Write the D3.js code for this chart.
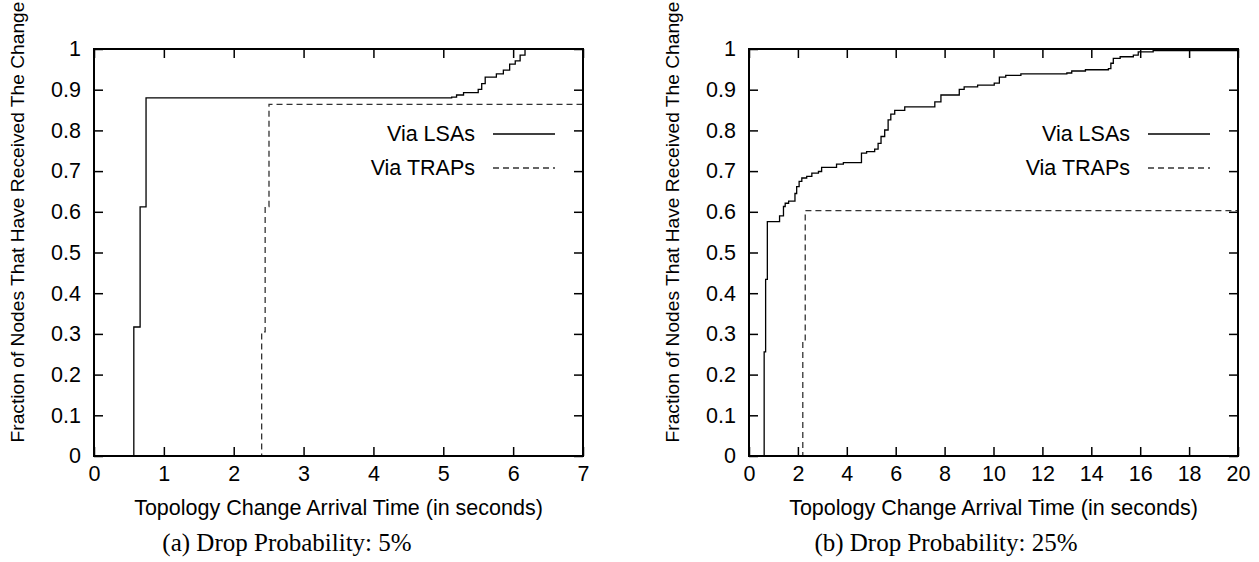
<!DOCTYPE html>
<html>
<head>
<meta charset="utf-8">
<script src="https://cdn.jsdelivr.net/npm/d3@7"></script>
<style>
  html, body { margin: 0; padding: 0; background: #fff; }
  svg { display: block; }
</style>
</head>
<body>
<svg id="chart" width="1259" height="562"></svg>
<script>
// ---------- DATA ----------
const yTicks = [0, 0.1, 0.2, 0.3, 0.4, 0.5, 0.6, 0.7, 0.8, 0.9, 1];
const yTickLabels = ["0", "0.1", "0.2", "0.3", "0.4", "0.5", "0.6", "0.7", "0.8", "0.9", "1"];
const xTicksA = [0, 1, 2, 3, 4, 5, 6, 7];
const xTicksB = [0, 2, 4, 6, 8, 10, 12, 14, 16, 18, 20];
const seriesNames = ["Via LSAs", "Via TRAPs"];
const yTitle = "Fraction of Nodes That Have Received The Change";
const xTitle = "Topology Change Arrival Time (in seconds)";
const captionA = "(a) Drop Probability: 5%";
const captionB = "(b) Drop Probability: 25%";

// panel (a): [time, fraction] step points
const lsaA = [[0.5,0],[0.57,0.317],[0.66,0.612],[0.745,0.880],[5.12,0.882],[5.19,0.887],
  [5.29,0.893],[5.50,0.901],[5.55,0.915],[5.60,0.931],[5.76,0.939],[5.86,0.948],
  [5.95,0.963],[6.03,0.971],[6.10,0.985],[6.17,1.0]];
const trapA = [[2.35,0],[2.40,0.305],[2.45,0.613],[2.505,0.864],[7,0.864]];

// panel (b)
const lsaB = [[0.56,0],[0.62,0.256],[0.68,0.434],[0.75,0.576],[1.25,0.59],[1.41,0.613],
  [1.48,0.621],[1.62,0.626],[1.88,0.645],[1.95,0.662],[2.05,0.675],[2.16,0.683],
  [2.36,0.687],[2.57,0.695],[2.84,0.699],[2.97,0.709],[3.58,0.717],[3.86,0.721],
  [4.60,0.744],[4.81,0.748],[5.14,0.754],[5.28,0.768],[5.40,0.785],[5.55,0.801],
  [5.69,0.826],[5.80,0.840],[5.96,0.849],[6.37,0.858],[7.60,0.870],[7.85,0.887],
  [8.60,0.901],[8.80,0.907],[9.35,0.911],[10.03,0.916],[10.24,0.931],[10.50,0.935],
  [11.12,0.939],[13.00,0.941],[13.20,0.946],[13.76,0.949],[14.70,0.952],[14.80,0.965],
  [14.90,0.977],[15.18,0.981],[15.72,0.985],[15.92,0.993],[16.53,0.996],[20,0.996]];
const trapB = [[2.12,0],[2.2,0.281],[2.3,0.603],[20,0.603]];

// ---------- DRAW ----------
const svg = d3.select("#chart");
svg.append("rect").attr("width", 1259).attr("height", 562).attr("fill", "#fff");

const SANS = "'Liberation Sans', Arial, Helvetica, sans-serif";
const SERIF = "'Liberation Serif', 'Times New Roman', serif";
const FS = "21.5px";

function panel(opts) {
  const { left, right, top, bottom, xMax, xTicks, lsa, trap, caption } = opts;
  const x = d3.scaleLinear().domain([0, xMax]).range([left, right]);
  const y = d3.scaleLinear().domain([0, 1]).range([bottom, top]);
  const g = svg.append("g");
  const fmtY = d => yTickLabels[yTicks.indexOf(d)];

  const styleAxis = sel => {
    sel.select(".domain").remove();
    sel.selectAll(".tick line").attr("stroke", "#000").attr("stroke-width", 1.5);
    sel.selectAll(".tick text").attr("fill", "#000")
      .style("font-family", SANS).style("font-size", FS);
  };

  g.append("g").attr("transform", `translate(${left},0)`)
    .call(d3.axisLeft(y).tickValues(yTicks).tickFormat(fmtY).tickSize(-9).tickPadding(13))
    .call(styleAxis);
  g.append("g").attr("transform", `translate(${right},0)`)
    .call(d3.axisRight(y).tickValues(yTicks).tickFormat("").tickSize(-9))
    .call(styleAxis);
  g.append("g").attr("transform", `translate(0,${bottom})`)
    .call(d3.axisBottom(x).tickValues(xTicks).tickFormat(d3.format("d")).tickSize(-9).tickPadding(10))
    .call(styleAxis);
  g.append("g").attr("transform", `translate(0,${top})`)
    .call(d3.axisTop(x).tickValues(xTicks).tickFormat("").tickSize(-9))
    .call(styleAxis);

  const line = d3.line().x(d => x(d[0])).y(d => y(d[1])).curve(d3.curveStepAfter);

  g.append("path").datum(trap).attr("d", line)
    .attr("fill", "none").attr("stroke", "#333").attr("stroke-width", 1.3)
    .attr("stroke-dasharray", "6,4");
  g.append("path").datum(lsa).attr("d", line)
    .attr("fill", "none").attr("stroke", "#000").attr("stroke-width", 1.3);

  g.append("rect").attr("x", left).attr("y", top)
    .attr("width", right - left).attr("height", bottom - top)
    .attr("fill", "none").attr("stroke", "#000").attr("stroke-width", 2);

  // legend
  const legY = [134, 168];
  seriesNames.forEach((name, i) => {
    g.append("text").attr("x", right - 108).attr("y", legY[i])
      .attr("text-anchor", "end").attr("dominant-baseline", "central")
      .style("font-family", SANS).style("font-size", FS).text(name);
    g.append("line").attr("x1", right - 90).attr("x2", right - 28)
      .attr("y1", legY[i]).attr("y2", legY[i])
      .attr("stroke", i === 0 ? "#000" : "#333").attr("stroke-width", 1.3)
      .attr("stroke-dasharray", i === 0 ? null : "6,4");
  });

  // axis titles
  g.append("text").attr("x", (left + right) / 2).attr("y", 508)
    .attr("text-anchor", "middle").attr("dominant-baseline", "central")
    .style("font-family", SANS).style("font-size", FS).text(xTitle);
  g.append("text")
    .attr("transform", `translate(${left - 77},222) rotate(-90)`)
    .attr("text-anchor", "middle").attr("dominant-baseline", "central")
    .style("font-family", SANS).style("font-size", "19.2px").text(yTitle);

  // caption
  g.append("text").attr("x", opts.capX).attr("y", 542)
    .attr("text-anchor", "middle").attr("dominant-baseline", "central")
    .style("font-family", SERIF).style("font-size", "25px").text(caption);
}

panel({ left: 94, right: 583, top: 49, bottom: 456, xMax: 7, xTicks: xTicksA,
        lsa: lsaA, trap: trapA, caption: captionA, capX: 287 });
panel({ left: 749, right: 1238, top: 49, bottom: 456, xMax: 20, xTicks: xTicksB,
        lsa: lsaB, trap: trapB, caption: captionB, capX: 946 });
</script>
</body>
</html>
